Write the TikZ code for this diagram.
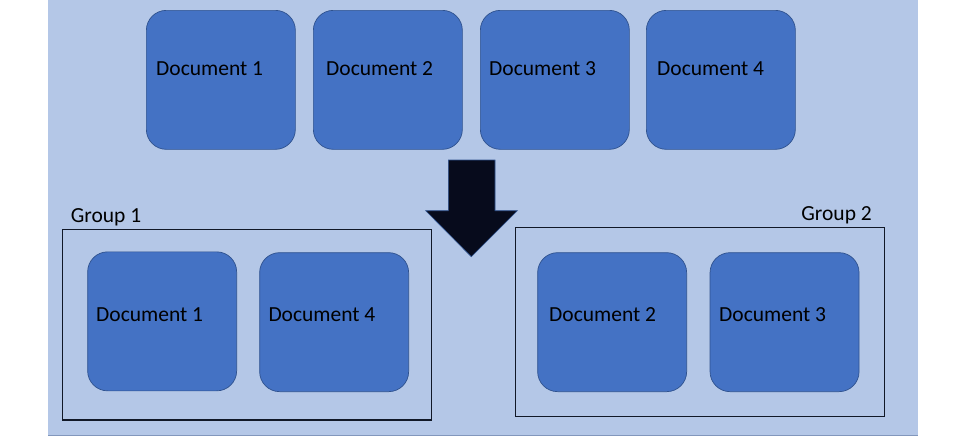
\documentclass[tikz,border=0pt]{standalone}
\usepackage{fontspec}
\setmainfont{Carlito}
\definecolor{bgblue}{HTML}{B4C7E7}
\definecolor{docblue}{HTML}{4472C4}
\definecolor{docedge}{HTML}{2F528F}
\definecolor{arrowfill}{HTML}{070B1C}
\definecolor{groupedge}{HTML}{111827}
\tikzset{
  docbox/.style={draw=docedge, line width=0.7pt, fill=docblue, rounded corners=20pt,
    minimum width=149pt, minimum height=139pt, inner sep=0pt, anchor=north west},
  doctext/.style={anchor=west, inner sep=0pt, font=\fontsize{21.5}{26}\selectfont, text=black},
  groupbox/.style={draw=groupedge, line width=1.2pt},
  grouplabel/.style={inner sep=0pt, font=\fontsize{21.5}{26}\selectfont, text=black},
}
\begin{document}
\begin{tikzpicture}[x=1pt,y=-1pt]
\useasboundingbox (0,0) rectangle (966,437);
% background
\fill[bgblue] (48,0) rectangle (918,435);
\draw[docedge!60, line width=0.6pt] (48,435) -- (918,435);
% top row
\node[docbox] (t1) at (146,10) {};
\node[docbox] (t2) at (313,10) {};
\node[docbox] (t3) at (480,10) {};
\node[docbox] (t4) at (646,10) {};
\node[doctext] (tt1) at (156,69) {Document 1};
\node[doctext] (tt2) at (326,69) {Document 2};
\node[doctext] (tt3) at (489,69) {Document 3};
\node[doctext] (tt4) at (657,69) {Document 4};
% arrow
\draw[fill=arrowfill, draw=docedge, line width=0.6pt]
  (448.3,160) -- (495,160) -- (495,210.7) -- (517.3,210.7) -- (471.3,256.7)
  -- (425.7,210.7) -- (448.3,210.7) -- cycle;
% group 1
\node[groupbox, minimum width=369pt, minimum height=190.6pt, anchor=north west, inner sep=0pt] (g1) at (62,228.7) {};
\node[grouplabel, anchor=west] (g1l) at (70.7,217) {Group 1};
\node[docbox] (a1) at (87.3,251.5) {};
\node[docbox] (a4) at (259.3,252.3) {};
\node[doctext] (at1) at (96,315) {Document 1};
\node[doctext] (at4) at (268.3,315) {Document 4};
% group 2
\node[groupbox, minimum width=369.3pt, minimum height=189.3pt, anchor=north west, inner sep=0pt] (g2) at (514.7,226.7) {};
\node[grouplabel, anchor=east] (g2l) at (872,215) {Group 2};
\node[docbox] (b2) at (537.3,252.3) {};
\node[docbox] (b3) at (709.7,252.3) {};
\node[doctext] (bt2) at (549,315) {Document 2};
\node[doctext] (bt3) at (719,315) {Document 3};
\end{tikzpicture}
\end{document}
